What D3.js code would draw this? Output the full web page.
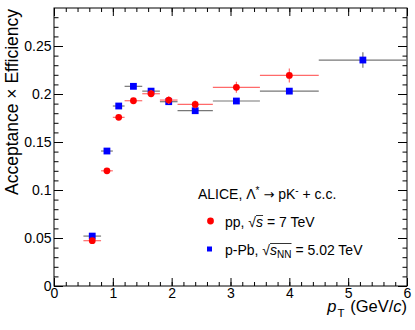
<!DOCTYPE html>
<html>
<head>
<meta charset="utf-8">
<script src="https://cdn.jsdelivr.net/npm/d3@7"></script>
<style>
  body { margin: 0; background: #fff; }
  text { font-family: "Liberation Sans", Arial, sans-serif; fill: #000; }
</style>
</head>
<body>
<script>
// bins in pT (GeV/c)
var binLow  = [0.5, 0.8, 1.0, 1.2, 1.5, 1.8, 2.1, 2.7, 3.5, 4.5];
var binHigh = [0.8, 1.0, 1.2, 1.5, 1.8, 2.1, 2.7, 3.5, 4.5, 6.0];

// pp, sqrt(s) = 7 TeV (no last bin)
var ppValues = [0.0472, 0.1200, 0.1757, 0.1930, 0.2003, 0.1937, 0.1892, 0.2070, 0.2194];
var ppErrors = [0.0020, 0.0020, 0.0025, 0.0025, 0.0040, 0.0040, 0.0040, 0.0057, 0.0073];

// p-Pb, sqrt(sNN) = 5.02 TeV
var pPbValues = [0.0520, 0.1406, 0.1875, 0.2080, 0.2030, 0.1920, 0.1826, 0.1927, 0.2030, 0.2354];
var pPbErrors = [0.0015, 0.0015, 0.0015, 0.0015, 0.0015, 0.0020, 0.0020, 0.0030, 0.0030, 0.0080];

var xTicks = [0, 1, 2, 3, 4, 5, 6];
var yTicks = [0, 0.05, 0.1, 0.15, 0.2, 0.25];
var yTickLabels = ["0", "0.05", "0.1", "0.15", "0.2", "0.25"];

var w = 415, h = 330;
var padL = 54, padR = 407, padT = 8, padB = 286;

var x = d3.scaleLinear().domain([0, 6]).range([padL, padR]);
var y = d3.scaleLinear().domain([0, 0.2896]).range([padB, padT]);

var svg = d3.select("body").append("svg")
    .attr("width", w)
    .attr("height", h);

// frame
svg.append("rect")
    .attr("x", padL).attr("y", padT)
    .attr("width", padR - padL).attr("height", padB - padT)
    .attr("fill", "none").attr("stroke", "#000").attr("stroke-width", 1);

var minorX = d3.range(0, 6.001, 0.2);
var minorY = d3.range(0, 0.2896, 0.01);

function styleAxis(g) {
    g.select(".domain").remove();
    g.selectAll("line").attr("stroke", "#000");
    g.selectAll("text").style("font-size", "14px")
        .style("font-family", '"Liberation Sans", Arial, sans-serif');
}

// bottom axis, ticks pointing inward
svg.append("g").attr("transform", "translate(0," + padB + ")")
    .call(d3.axisBottom(x).tickValues(minorX).tickSize(-4).tickFormat(""))
    .call(styleAxis);
svg.append("g").attr("transform", "translate(0," + padB + ")")
    .call(d3.axisBottom(x).tickValues(xTicks).tickSize(-8).tickPadding(2.5).tickFormat(d3.format("d")))
    .call(styleAxis);
// top axis
svg.append("g").attr("transform", "translate(0," + padT + ")")
    .call(d3.axisTop(x).tickValues(minorX).tickSize(-4).tickFormat(""))
    .call(styleAxis);
svg.append("g").attr("transform", "translate(0," + padT + ")")
    .call(d3.axisTop(x).tickValues(xTicks).tickSize(-8).tickFormat(""))
    .call(styleAxis);
// left axis
svg.append("g").attr("transform", "translate(" + padL + ",0)")
    .call(d3.axisLeft(y).tickValues(minorY).tickSize(-4.5).tickFormat(""))
    .call(styleAxis);
svg.append("g").attr("transform", "translate(" + padL + ",0)")
    .call(d3.axisLeft(y).tickValues(yTicks).tickSize(-9).tickPadding(2.5)
        .tickFormat(function(d, i) { return yTickLabels[i]; }))
    .call(styleAxis);
// right axis
svg.append("g").attr("transform", "translate(" + padR + ",0)")
    .call(d3.axisRight(y).tickValues(minorY).tickSize(-4.5).tickFormat(""))
    .call(styleAxis);
svg.append("g").attr("transform", "translate(" + padR + ",0)")
    .call(d3.axisRight(y).tickValues(yTicks).tickSize(-9).tickFormat(""))
    .call(styleAxis);

// axis titles
svg.append("text")
    .attr("transform", "translate(17.5," + (padT + 1) + ") rotate(-90)")
    .attr("text-anchor", "end")
    .style("font-size", "17.5px")
    .text("Acceptance \u00d7 Efficiency");

var xt = svg.append("text")
    .attr("x", padR).attr("y", 312)
    .attr("text-anchor", "end")
    .style("font-size", "16.5px");
xt.append("tspan").style("font-style", "italic").text("p");
xt.append("tspan").attr("dy", 5).attr("dx", 1).style("font-size", "11.5px").text("T");
xt.append("tspan").attr("dy", -5).attr("dx", 1).text(" (GeV/");
xt.append("tspan").style("font-style", "italic").text("c");
xt.append("tspan").text(")");

// data points
function drawSeries(values, errors, barColor, markerColor, shape) {
    var g = svg.append("g");
    values.forEach(function(v, i) {
        var cx = x((binLow[i] + binHigh[i]) / 2);
        g.append("line")
            .attr("x1", x(binLow[i])).attr("x2", x(binHigh[i]))
            .attr("y1", y(v)).attr("y2", y(v))
            .attr("stroke", barColor).attr("stroke-width", 1.2);
        g.append("line")
            .attr("x1", cx).attr("x2", cx)
            .attr("y1", y(v - errors[i])).attr("y2", y(v + errors[i]))
            .attr("stroke", barColor).attr("stroke-width", 1.2);
    });
    values.forEach(function(v, i) {
        var cx = x((binLow[i] + binHigh[i]) / 2);
        if (shape === "square") {
            g.append("rect")
                .attr("x", cx - 3.4).attr("y", y(v) - 3.4)
                .attr("width", 6.8).attr("height", 6.8)
                .attr("fill", markerColor);
        } else {
            g.append("circle")
                .attr("cx", cx).attr("cy", y(v)).attr("r", 3.4)
                .attr("fill", markerColor);
        }
    });
}

drawSeries(pPbValues, pPbErrors, "#777", "#0000ff", "square");
drawSeries(ppValues, ppErrors, "#ff6a6a", "#ff0000", "circle");

// legend
var t1 = svg.append("text").attr("x", 198).attr("y", 199).style("font-size", "14px");
t1.append("tspan").text("ALICE, \u039b");
t1.append("tspan").attr("dy", -5).style("font-size", "10px").text("*");
t1.append("tspan").attr("dy", 5).text(" ");
t1.append("tspan").style("font-family", '"DejaVu Sans", sans-serif').style("font-size", "13px").text("\u2192");
t1.append("tspan").text(" pK");
t1.append("tspan").attr("dy", -5).style("font-size", "10px").text("-");
t1.append("tspan").attr("dy", 5).text(" + c.c.");

svg.append("circle").attr("cx", 210.5).attr("cy", 221).attr("r", 3.4).attr("fill", "#ff0000");
svg.append("rect").attr("x", 207).attr("y", 246.5).attr("width", 5).attr("height", 5).attr("fill", "#0000ff");

var t2 = svg.append("text").attr("x", 225).attr("y", 227).style("font-size", "14px");
t2.append("tspan").text("pp, \u221a");
var s2 = t2.append("tspan").style("font-style", "italic").text("s");
t2.append("tspan").text(" = 7 TeV");

var t3 = svg.append("text").attr("x", 225).attr("y", 255).style("font-size", "14px");
t3.append("tspan").text("p-Pb, \u221a");
var s3 = t3.append("tspan").style("font-style", "italic").text("s");
var n3 = t3.append("tspan").attr("dy", 3).style("font-size", "10px").text("NN");
t3.append("tspan").attr("dy", -3).text(" = 5.02 TeV");

// overline of the square roots
function overline(first, last, yLine) {
    var b1 = first.node().getBBox(), b2 = last.node().getBBox();
    svg.append("line")
        .attr("x1", b1.x).attr("x2", b2.x + b2.width)
        .attr("y1", yLine).attr("y2", yLine)
        .attr("stroke", "#000").attr("stroke-width", 0.8);
}
overline(s2, s2, 215.5);
overline(s3, n3, 243.5);
</script>
</body>
</html>
